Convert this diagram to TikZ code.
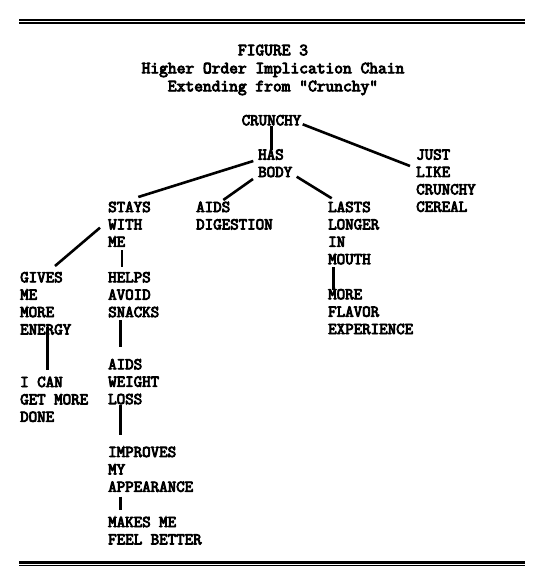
\documentclass[tikz,border=0pt]{standalone}
\usepackage{fontspec}
\newfontfamily\tw[RawFeature={embolden=5}]{Latin Modern Mono}
\begin{document}
\begin{tikzpicture}[x=1pt,y=-1pt,
  lbl/.style={anchor=north west,inner sep=0pt,align=left,
    font=\tw\fontsize{16.5}{17.4}\selectfont},
  ttl/.style={anchor=north,inner sep=0pt,align=center,
    font=\tw\fontsize{17}{18}\selectfont},
  link/.style={line width=2.6pt},
  rulethin/.style={line width=1.3pt},
  rulethick/.style={line width=2.3pt}]
\useasboundingbox (0,0) rectangle (536,586);
% rules
\draw[rulethin] (19,20) -- (525,20);
\draw[rulethick] (19,23.3) -- (525,23.3);
\draw[rulethick] (19,562.5) -- (525,562.5);
\draw[rulethin] (19,565.8) -- (525,565.8);
% title
\node[ttl] (title) at (273,44.5) {FIGURE 3\\Higher Order Implication Chain\\Extending from "Crunchy"};
% nodes
\node[lbl] (crunchy) at (241.5,114.8) {CRUNCHY};
\node[lbl] (hasbody) at (258,149.1) {HAS\\BODY};
\node[lbl] (just) at (416,149.1) {JUST\\LIKE\\CRUNCHY\\CEREAL};
\node[lbl] (stays) at (108,201.5) {STAYS\\WITH\\ME};
\node[lbl] (aids) at (196,201.5) {AIDS\\DIGESTION};
\node[lbl] (lasts) at (328,201.5) {LASTS\\LONGER\\IN\\MOUTH};
\node[lbl] (gives) at (20,271.8) {GIVES\\ME\\MORE\\ENERGY};
\node[lbl] (helps) at (108,271.8) {HELPS\\AVOID\\SNACKS};
\node[lbl] (moref) at (328,288.8) {MORE\\FLAVOR\\EXPERIENCE};
\node[lbl] (ican) at (20,376.5) {I CAN\\GET MORE\\DONE};
\node[lbl] (aidsw) at (108,358.8) {AIDS\\WEIGHT\\LOSS};
\node[lbl] (improves) at (108,446.5) {IMPROVES\\MY\\APPEARANCE};
\node[lbl] (makes) at (108,516.5) {MAKES ME\\FEEL BETTER};
% connectors
\draw[link] ([shift={(30.2,11.2)}]crunchy.north west) -- ([shift={(13.7,1)}]hasbody.north west);
\draw[link] ([shift={(61.2,9.5)}]crunchy.north west) -- ([shift={(-6,16.9)}]just.north west);
\draw[link] ([shift={(-4.7,11.9)}]hasbody.north west) -- ([shift={(30.3,-4.5)}]stays.north west);
\draw[link] ([shift={(-5,29.9)}]hasbody.north west) -- ([shift={(27.3,-1.5)}]aids.north west);
\draw[link] ([shift={(38.7,27.6)}]hasbody.north west) -- ([shift={(3.7,-3.2)}]lasts.north west);
\draw[link] ([shift={(-8,26.2)}]stays.north west) -- ([shift={(35,-5.8)}]gives.north west);
\draw[link] ([shift={(14,48.5)}]stays.north west) -- ([shift={(14,-5.1)}]helps.north west);
\draw[link] ([shift={(5.3,65.5)}]lasts.north west) -- ([shift={(5.3,1.2)}]moref.north west);
\draw[link] ([shift={(27.3,54.9)}]gives.north west) -- ([shift={(27.3,-6.5)}]ican.north west);
\draw[link] ([shift={(12.7,48.2)}]helps.north west) -- ([shift={(12.7,-11.8)}]aidsw.north west);
\draw[link] ([shift={(12.7,46.2)}]aidsw.north west) -- ([shift={(12.7,-11.5)}]improves.north west);
\draw[link] ([shift={(12.7,50.2)}]improves.north west) -- ([shift={(12.7,-6.5)}]makes.north west);
\end{tikzpicture}
\end{document}
